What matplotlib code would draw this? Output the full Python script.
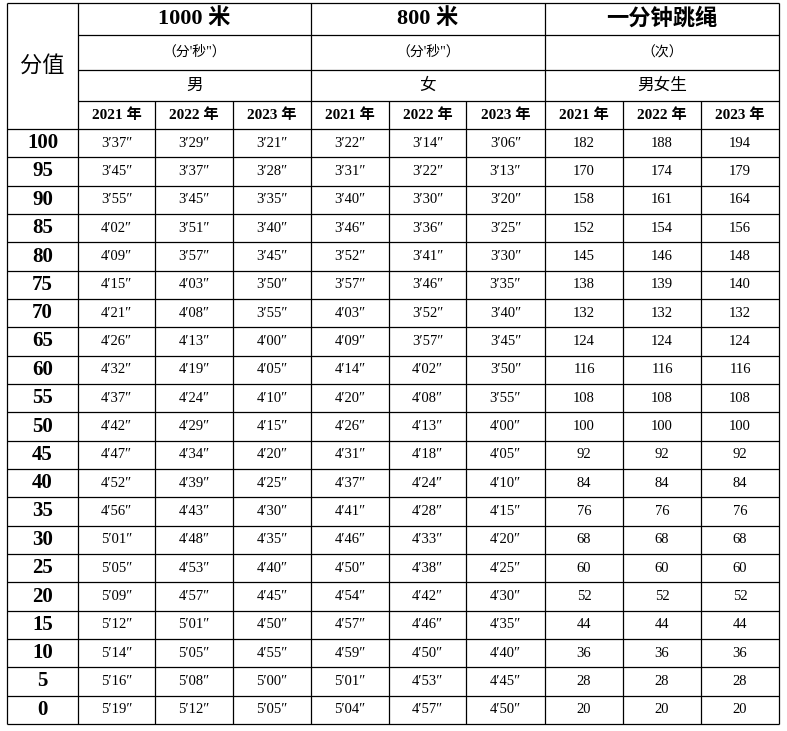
import matplotlib
matplotlib.use("Agg")
import matplotlib.pyplot as plt

scores = [100,95,90,85,80,75,70,65,60,55,50,45,40,35,30,25,20,15,10,5,0]
m1000_2021 = ["3′37","3′45","3′55","4′02","4′09","4′15","4′21","4′26","4′32","4′37","4′42","4′47","4′52","4′56","5′01","5′05","5′09","5′12","5′14","5′16","5′19"]
m1000_2022 = ["3′29","3′37","3′45","3′51","3′57","4′03","4′08","4′13","4′19","4′24","4′29","4′34","4′39","4′43","4′48","4′53","4′57","5′01","5′05","5′08","5′12"]
m1000_2023 = ["3′21","3′28","3′35","3′40","3′45","3′50","3′55","4′00","4′05","4′10","4′15","4′20","4′25","4′30","4′35","4′40","4′45","4′50","4′55","5′00","5′05"]
f800_2021 = ["3′22","3′31","3′40","3′46","3′52","3′57","4′03","4′09","4′14","4′20","4′26","4′31","4′37","4′41","4′46","4′50","4′54","4′57","4′59","5′01","5′04"]
f800_2022 = ["3′14","3′22","3′30","3′36","3′41","3′46","3′52","3′57","4′02","4′08","4′13","4′18","4′24","4′28","4′33","4′38","4′42","4′46","4′50","4′53","4′57"]
f800_2023 = ["3′06","3′13","3′20","3′25","3′30","3′35","3′40","3′45","3′50","3′55","4′00","4′05","4′10","4′15","4′20","4′25","4′30","4′35","4′40","4′45","4′50"]
rope_2021 = [182,170,158,152,145,138,132,124,116,108,100,92,84,76,68,60,52,44,36,28,20]
rope_2022 = [188,174,161,154,146,139,132,124,116,108,100,92,84,76,68,60,52,44,36,28,20]
rope_2023 = [194,179,164,156,148,140,132,124,116,108,100,92,84,76,68,60,52,44,36,28,20]
events = ["1000 米", "800 米", "一分钟跳绳"]
units = ["（分'秒\"）", "（分'秒\"）", "（次）"]
genders = ["男", "女", "男女生"]
years = ["2021 年", "2022 年", "2023 年"]

FAM = ["Liberation Serif", "Noto Sans CJK SC"]
fig = plt.figure(figsize=(7.87, 7.31), dpi=100)
ax = fig.add_axes([0, 0, 1, 1])
ax.set_xlim(0, 787); ax.set_ylim(731, 0); ax.axis("off")

xs = [7, 78, 155, 233, 311, 389, 466, 545, 623, 701, 779]
hy = [3, 35, 70, 101, 129]
top, bot = 129, 724
nr = len(scores)
rh = (bot - top) / nr
ys = [top + i * rh for i in range(nr + 1)]
lw = 0.9
def line(x0, y0, x1, y1):
    ax.plot([x0, x1], [y0, y1], color="black", lw=lw, solid_capstyle="butt")

line(xs[0], hy[0], xs[-1], hy[0]); line(xs[0], bot, xs[-1], bot)
line(xs[0], hy[0], xs[0], bot); line(xs[-1], hy[0], xs[-1], bot)
for y in hy[1:4]:
    line(xs[1], y, xs[-1], y)
line(xs[0], hy[4], xs[-1], hy[4])
line(xs[1], hy[0], xs[1], bot)
for g in (4, 7):
    line(xs[g], hy[0], xs[g], bot)
for i in range(2, 10):
    if i not in (4, 7):
        line(xs[i], hy[3], xs[i], bot)
for y in ys[1:-1]:
    line(xs[0], y, xs[-1], y)

def t(x, y, s, size, bold=False):
    ax.text(x, y, s, ha="center", va="center", fontsize=size,
            fontweight="bold" if bold else "normal", family=FAM)

t((xs[0]+xs[1])/2, (hy[0]+hy[4])/2, "分值", 16)
for g in range(3):
    cx = (xs[1+3*g] + xs[4+3*g]) / 2
    t(cx, (hy[0]+hy[1])/2, events[g], 16, True)
    t(cx, (hy[1]+hy[2])/2, units[g], 10)
    t(cx, (hy[2]+hy[3])/2, genders[g], 12)
    for k in range(3):
        t((xs[1+3*g+k]+xs[2+3*g+k])/2, (hy[3]+hy[4])/2, years[k], 11, True)

cols = [m1000_2021, m1000_2022, m1000_2023, f800_2021, f800_2022, f800_2023,
        rope_2021, rope_2022, rope_2023]
for i in range(nr):
    cy = (ys[i] + ys[i+1]) / 2
    t((xs[0]+xs[1])/2, cy, str(scores[i]), 15, True)
    for c, col in enumerate(cols):
        v = col[i]
        s = f"{v}″" if isinstance(v, str) else str(v)
        t((xs[c+1]+xs[c+2])/2, cy, s, 10.5)

fig.savefig("out.png", dpi=100, facecolor="white")
